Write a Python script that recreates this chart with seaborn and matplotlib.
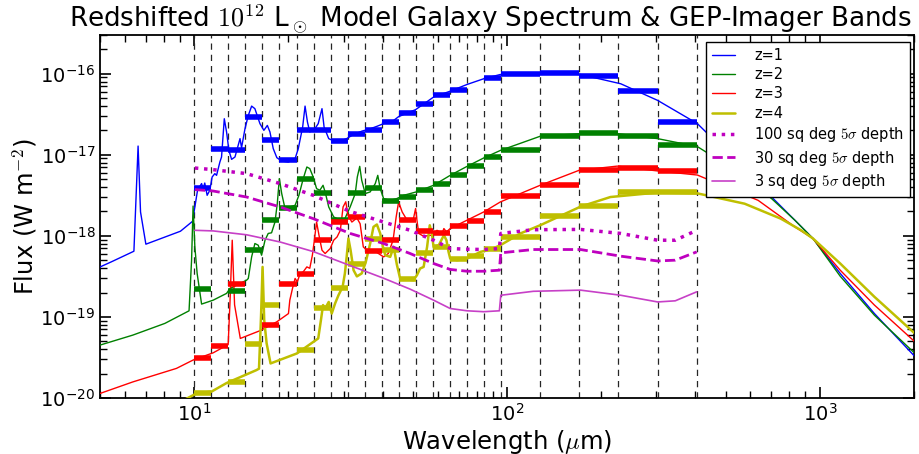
import matplotlib
matplotlib.use("Agg")
import matplotlib.pyplot as plt
import seaborn as sns
import numpy as np

# ---------------- data ----------------
band_edges = [10.0, 11.34, 12.85, 14.57, 16.51, 18.72, 21.22, 24.05, 27.26, 30.90,
              35.03, 39.71, 45.01, 51.02, 57.83, 65.55, 74.31, 84.23, 95.48,
              127.4, 170.1, 226.9, 302.8, 404.1]

nan = float("nan")
z1_bands = [3.94e-18, 1.165e-17, 1.13e-17, 2.91e-17, 1.50e-17, 8.7e-18, 2.04e-17, 2.04e-17,
            1.46e-17, 1.78e-17, 2.04e-17, 2.54e-17, 3.30e-17, 4.26e-17, 5.47e-17, 6.34e-17,
            nan, 8.77e-17, 9.97e-17, 1.01e-16, 9.25e-17, 6.04e-17, 2.51e-17]
z2_bands = [2.2e-19, nan, 2.10e-19, 6.78e-19, 1.56e-18, 2.23e-18, 5.08e-18, 3.35e-18,
            1.58e-18, 3.40e-18, 3.89e-18, 2.72e-18, 3.05e-18, 3.65e-18, 4.32e-18, 5.65e-18,
            7.30e-18, 9.37e-18, 1.13e-17, 1.72e-17, 1.84e-17, 1.69e-17, 1.32e-17]
z3_bands = [3.13e-20, 4.41e-20, 2.53e-19, nan, 7.86e-20, 2.53e-19, 3.34e-19, 9.0e-19,
            1.47e-18, 1.71e-18, 6.41e-19, 8.83e-19, 1.56e-18, 1.15e-18, 1.07e-18, 1.31e-18,
            1.53e-18, 1.95e-18, 3.07e-18, 4.20e-18, 6.42e-18, 6.86e-18, 6.30e-18]
z4_bands = [1.15e-20, nan, 1.56e-20, 4.62e-20, 1.40e-19, nan, 3.96e-20, 1.29e-19,
            2.30e-19, 4.53e-19, 9.08e-19, 6.70e-19, 2.92e-19, 6.16e-19, 7.30e-19, 5.22e-19,
            5.69e-19, 6.90e-19, 9.75e-19, 1.76e-18, 2.32e-18, 3.44e-18, 3.44e-18]

z1_wave = [5.0, 5.43, 6.41, 6.61, 6.73, 7.0, 9.03, 9.87, 10.04, 10.24, 10.55, 10.67, 10.80,
           10.99, 11.21, 11.40, 11.63, 11.78, 12.07, 12.22, 12.47, 12.68, 12.9, 13.16, 13.49,
           13.72, 14.0, 14.16, 14.52, 14.88, 15.25, 15.62, 16.21, 16.69, 17.12, 17.45, 17.88,
           18.36, 19.03, 19.98, 21.0, 21.5, 22.2, 22.6, 23.0, 23.4, 24.3, 24.9, 25.6, 26.0,
           26.9, 27.87, 29.3, 30.7, 32.3, 34.4, 36.5, 38.35, 40.3, 43.4, 45.0, 51.0, 58.2,
           65.8, 74.5, 84.2, 95.2, 107.7, 127.6, 148.0, 171.7, 231.0, 303.0, 406.0, 509.0,
           651.0, 832.0, 951.0, 1162.0, 1495.0, 2040.0]
z1_flux = [4.14e-19, 4.78e-19, 6.46e-19, 1.28e-17, 1.97e-18, 7.89e-19, 1.14e-18, 1.51e-18,
           2.27e-18, 3.65e-18, 4.41e-18, 3.82e-18, 4.48e-18, 3.16e-18, 3.65e-18, 5.31e-18,
           5.85e-18, 5.57e-18, 8.13e-18, 9.38e-18, 2.78e-17, 1.91e-17, 1.13e-17, 8.77e-18,
           9.38e-18, 1.19e-17, 1.58e-17, 1.22e-17, 2.09e-17, 3.05e-17, 3.98e-17, 3.70e-17,
           2.42e-17, 2.0e-17, 2.30e-17, 1.91e-17, 1.19e-17, 9.2e-18, 8.36e-18, 8.13e-18,
           8.95e-18, 1.19e-17, 2.19e-17, 3.98e-17, 2.53e-17, 1.91e-17, 2.09e-17, 2.42e-17,
           3.70e-17, 2.19e-17, 1.58e-17, 1.48e-17, 1.48e-17, 1.58e-17, 1.78e-17, 1.96e-17,
           2.09e-17, 2.24e-17, 2.42e-17, 2.65e-17, 2.95e-17, 3.6e-17, 5.14e-17, 6.08e-17,
           7.36e-17, 8.65e-17, 9.77e-17, 1.01e-16, 1.01e-16, 1.0e-16, 9.77e-17, 7.5e-17,
           4.68e-17, 2.42e-17, 1.03e-17, 4.01e-18, 1.56e-18, 9.27e-19, 3.44e-19, 1.10e-19,
           3.08e-20]

z2_wave = [5.0, 6.36, 8.05, 9.62, 9.8, 9.91, 10.04, 10.21, 10.55, 11.49, 12.68, 13.0, 14.7,
           14.88, 15.25, 15.62, 16.01, 16.41, 16.83, 17.23, 17.66, 18.11, 18.42, 18.7, 19.03,
           19.5, 20.2, 21.0, 21.6, 22.3, 22.9, 23.4, 24.0, 24.6, 25.2, 25.8, 26.2, 26.9, 27.9,
           29.3, 30.3, 31.5, 32.7, 33.2, 33.8, 34.3, 35.2, 36.5, 37.9, 38.6, 39.3, 40.3, 42.3,
           44.4, 46.7, 49.0, 51.5, 58.2, 65.8, 74.5, 84.2, 95.2, 127.6, 171.7, 225.0, 303.0,
           406.0, 548.0, 701.0, 832.0, 951.0, 1162.0, 1495.0, 2040.0]
z2_flux = [4.50e-20, 5.97e-20, 8.32e-20, 1.19e-19, 5.01e-19, 2.33e-18, 7.3e-19, 3.44e-19,
           1.44e-19, 1.61e-19, 1.95e-19, 2.24e-19, 2.84e-19, 2.98e-19, 5.5e-19, 8.04e-19,
           7.66e-19, 5.77e-19, 8.83e-19, 1.07e-18, 1.09e-18, 1.48e-18, 2.5e-18, 5.08e-18,
           3.32e-18, 2.17e-18, 2.27e-18, 2.38e-18, 3.16e-18, 5.08e-18, 7.06e-18, 6.75e-18,
           5.31e-18, 3.82e-18, 3.65e-18, 4.2e-18, 3.48e-18, 2.27e-18, 1.71e-18, 1.56e-18,
           1.63e-18, 2.27e-18, 3.32e-18, 5.31e-18, 7.19e-18, 4.84e-18, 3.32e-18, 3.48e-18,
           4.41e-18, 5.57e-18, 3.82e-18, 2.88e-18, 2.74e-18, 2.88e-18, 3.16e-18, 3.32e-18,
           3.5e-18, 4.2e-18, 5.57e-18, 7.19e-18, 9.12e-18, 1.13e-17, 1.69e-17, 1.82e-17,
           1.82e-17, 1.58e-17, 1.26e-17, 6.12e-18, 2.88e-18, 1.56e-18, 9.27e-19, 3.18e-19,
           1.05e-19, 3.39e-20]

z3_wave = [5.0, 6.36, 8.77, 9.91, 11.49, 12.83, 13.0, 13.22, 13.45, 14.03, 16.21, 18.36,
           20.0, 20.2, 20.6, 21.0, 21.35, 21.8, 22.3, 22.9, 23.4, 23.85, 24.2, 24.6, 25.1,
           25.6, 26.2, 27.2, 27.9, 28.6, 29.3, 29.9, 30.5, 31.0, 31.9, 33.1, 33.9, 34.7, 36.1,
           37.4, 38.8, 40.3, 41.7, 43.2, 44.2, 45.0, 46.2, 47.9, 50.2, 51.0, 51.5, 52.2, 54.1,
           57.5, 59.7, 62.0, 62.8, 64.0, 65.8, 74.5, 84.2, 95.2, 127.6, 170.0, 225.0, 303.0,
           406.0, 635.0, 832.0, 951.0, 1162.0, 1495.0, 2040.0]
z3_flux = [1.14e-20, 1.58e-20, 2.32e-20, 2.94e-20, 3.61e-20, 4.56e-20, 1.48e-19, 8.83e-19,
           1.41e-19, 5.43e-20, 6.76e-20, 8.71e-20, 1.10e-19, 1.61e-19, 2.24e-19, 2.98e-19,
           2.71e-19, 3.44e-19, 3.6e-19, 4.14e-19, 3.98e-19, 5.77e-19, 8.83e-19, 1.48e-18,
           9.68e-19, 6.65e-19, 6.05e-19, 6.97e-19, 8.83e-19, 9.68e-19, 1.17e-18, 2.27e-18,
           2.63e-18, 1.79e-18, 1.48e-18, 1.66e-18, 1.41e-18, 7.3e-19, 6.34e-19, 6.65e-19,
           6.05e-19, 5.5e-19, 6.05e-19, 8.83e-19, 1.71e-18, 2.62e-18, 1.97e-18, 1.56e-18,
           1.63e-18, 2.17e-18, 1.56e-18, 1.07e-18, 9.89e-19, 1.02e-18, 1.17e-18, 1.07e-18,
           1.23e-18, 1.12e-18, 1.23e-18, 1.56e-18, 1.97e-18, 2.62e-18, 4.2e-18, 6.43e-18,
           7.24e-18, 6.31e-18, 5.62e-18, 2.74e-18, 1.29e-18, 9.27e-19, 3.77e-19, 1.40e-19,
           4.72e-20]

z4_wave = [9.32, 10.16, 11.35, 12.68, 15.8, 16.1, 16.34, 16.53, 16.73, 17.03, 17.53, 21.3,
           24.9, 25.4, 25.8, 26.2, 26.9, 27.5, 28.2, 28.9, 29.8, 30.3, 30.7, 31.1, 31.6, 32.3,
           33.1, 34.3, 35.3, 36.5, 37.4, 38.35, 39.3, 40.1, 40.8, 42.3, 43.4, 44.4, 45.5, 50.2,
           51.5, 52.7, 54.1, 55.5, 56.6, 57.5, 58.2, 60.5, 62.8, 64.0, 65.0, 65.8, 69.1, 74.5,
           82.2, 88.4, 95.2, 110.3, 127.6, 171.7, 214.0, 303.0, 406.0, 575.0, 750.0, 872.0,
           951.0, 1162.0, 1495.0, 2040.0]
z4_flux = [9.55e-21, 1.14e-20, 1.20e-20, 1.53e-20, 2.21e-20, 2.3e-20, 1.0e-19, 4.14e-19,
           9.12e-20, 4.72e-20, 2.67e-20, 3.55e-20, 5.43e-20, 9.12e-20, 1.40e-19, 1.27e-19,
           1.53e-19, 1.10e-19, 1.47e-19, 1.85e-19, 2.35e-19, 3.44e-19, 5.5e-19, 9.27e-19,
           6.65e-19, 3.77e-19, 3.16e-19, 3.44e-19, 4.68e-19, 8.04e-19, 1.29e-18, 1.38e-18,
           1.07e-18, 7.3e-19, 5.77e-19, 5.5e-19, 7.3e-19, 4.47e-19, 2.98e-19, 2.84e-19,
           3.27e-19, 3.95e-19, 4.14e-19, 7.3e-19, 1.35e-18, 1.07e-18, 7.3e-19, 7.66e-19,
           1.02e-18, 8.83e-19, 6.34e-19, 5.25e-19, 5.01e-19, 5.25e-19, 6.34e-19, 6.78e-19,
           7.66e-19, 1.07e-18, 1.35e-18, 2.29e-18, 3.01e-18, 3.42e-18, 3.34e-18, 2.49e-18,
           1.63e-18, 1.17e-18, 9.27e-19, 4.56e-19, 1.77e-19, 5.97e-20]

depth_wave = [10.04, 11.49, 14.7, 18.8, 24.0, 31.5, 40.3, 49.0, 58.2, 65.8, 74.5, 84.2,
              94.5, 95.5, 121.3, 171.7, 231.0, 303.0, 345.0, 404.0]
depth_100sq = [6.86e-18, 6.55e-18, 5.85e-18, 4.41e-18, 3.16e-18, 2.0e-18, 1.48e-18, 1.17e-18,
               8.83e-19, 6.97e-19, 6.84e-19, 6.78e-19, 6.97e-19, 1.07e-18, 1.19e-18, 1.2e-18,
               1.07e-18, 8.83e-19, 8.83e-19, 1.17e-18]
depth_30sq = [3.72e-18, 3.57e-18, 3.01e-18, 2.27e-18, 1.63e-18, 1.07e-18, 8.04e-19, 6.05e-19,
              4.56e-19, 3.85e-19, 3.66e-19, 3.66e-19, 3.77e-19, 6.17e-19, 6.78e-19, 6.78e-19,
              5.61e-19, 4.9e-19, 5.01e-19, 6.34e-19]
depth_3sq = [1.17e-18, 1.15e-18, 1.03e-18, 8.4e-19, 6.4e-19, 4.3e-19, 3.0e-19, 2.2e-19,
             1.61e-19, 1.27e-19, 1.19e-19, 1.16e-19, 1.19e-19, 1.85e-19, 2.07e-19, 2.14e-19,
             1.85e-19, 1.53e-19, 1.58e-19, 2.04e-19]

# ---------------- style ----------------
sns.set_style("ticks")
plt.rcParams.update({
    "font.family": ["DejaVu Sans"],
    "mathtext.fontset": "cm",
    "text.color": "black", "axes.labelcolor": "black",
    "xtick.color": "black", "ytick.color": "black",
    "xtick.direction": "in", "ytick.direction": "in",
    "xtick.top": True, "ytick.right": True,
    "xtick.major.size": 8, "ytick.major.size": 8,
    "xtick.minor.size": 5, "ytick.minor.size": 5,
    "xtick.major.width": 1.2, "ytick.major.width": 1.2,
    "xtick.minor.width": 1.0, "ytick.minor.width": 1.0,
    "xtick.minor.visible": True, "ytick.minor.visible": True,
})

fig = plt.figure(figsize=(9.19, 4.54), dpi=100)
ax = fig.add_axes([0.109, 0.1233, 0.8855, 0.7997])
ax.set_xscale("log")
ax.set_yscale("log")

for e in band_edges:
    ax.axvline(e, color="0.15", lw=0.9, dashes=(5, 4), zorder=1)

series = [
    ("z=1", z1_wave, z1_flux, z1_bands, (0, 0, 1), 1.0),
    ("z=2", z2_wave, z2_flux, z2_bands, (0, 0.5, 0), 1.0),
    ("z=3", z3_wave, z3_flux, z3_bands, (1, 0, 0), 1.0),
    ("z=4", z4_wave, z4_flux, z4_bands, (0.75, 0.75, 0), 1.8),
]
for label, w, f, bands, col, lw in series:
    sns.lineplot(x=w, y=f, ax=ax, color=col, lw=lw, label=label,
                 estimator=None, sort=False, zorder=3)
    for i, v in enumerate(bands):
        if np.isfinite(v):
            ax.hlines(v, band_edges[i], band_edges[i + 1], colors=[col], lw=4, zorder=4)

sns.lineplot(x=depth_wave, y=depth_100sq, ax=ax, color=(0.75, 0, 0.75), lw=2.5,
             linestyle=":", label=r"100 sq deg $5\sigma$ depth", estimator=None, sort=False, zorder=5)
sns.lineplot(x=depth_wave, y=depth_30sq, ax=ax, color=(0.75, 0, 0.75), lw=2,
             linestyle="--", label=r"30 sq deg $5\sigma$ depth", estimator=None, sort=False, zorder=5)
sns.lineplot(x=depth_wave, y=depth_3sq, ax=ax, color=(0.78, 0.25, 0.78), lw=1.2,
             label=r"3 sq deg $5\sigma$ depth", estimator=None, sort=False, zorder=5)

ax.set_xlim(5, 2000)
ax.set_ylim(1e-20, 3e-16)
for s in ax.spines.values():
    s.set_linewidth(1.3)
    s.set_color("black")
ax.tick_params(which="both", labelsize=14, colors="black")

ax.set_xlabel(r"Wavelength ($\mu$m)", fontsize=17.5, labelpad=2)
ax.set_ylabel(r"Flux (W m$^{-2}$)", fontsize=17.5, labelpad=1)
ax.set_title(r"Redshifted $10^{12}$ L$_\odot$ Model Galaxy Spectrum & GEP-Imager Bands",
             fontsize=18.8, pad=2, x=0.479)

leg = ax.legend(loc="upper right", bbox_to_anchor=(0.995, 0.981), borderaxespad=0,
                fontsize=10.5, frameon=True, fancybox=False, framealpha=1,
                handlelength=1.6, handletextpad=1.3, labelspacing=0.3, borderpad=0.4)
leg.get_frame().set_edgecolor("black")
leg.get_frame().set_linewidth(1.0)

fig.savefig("out.png", dpi=100)
